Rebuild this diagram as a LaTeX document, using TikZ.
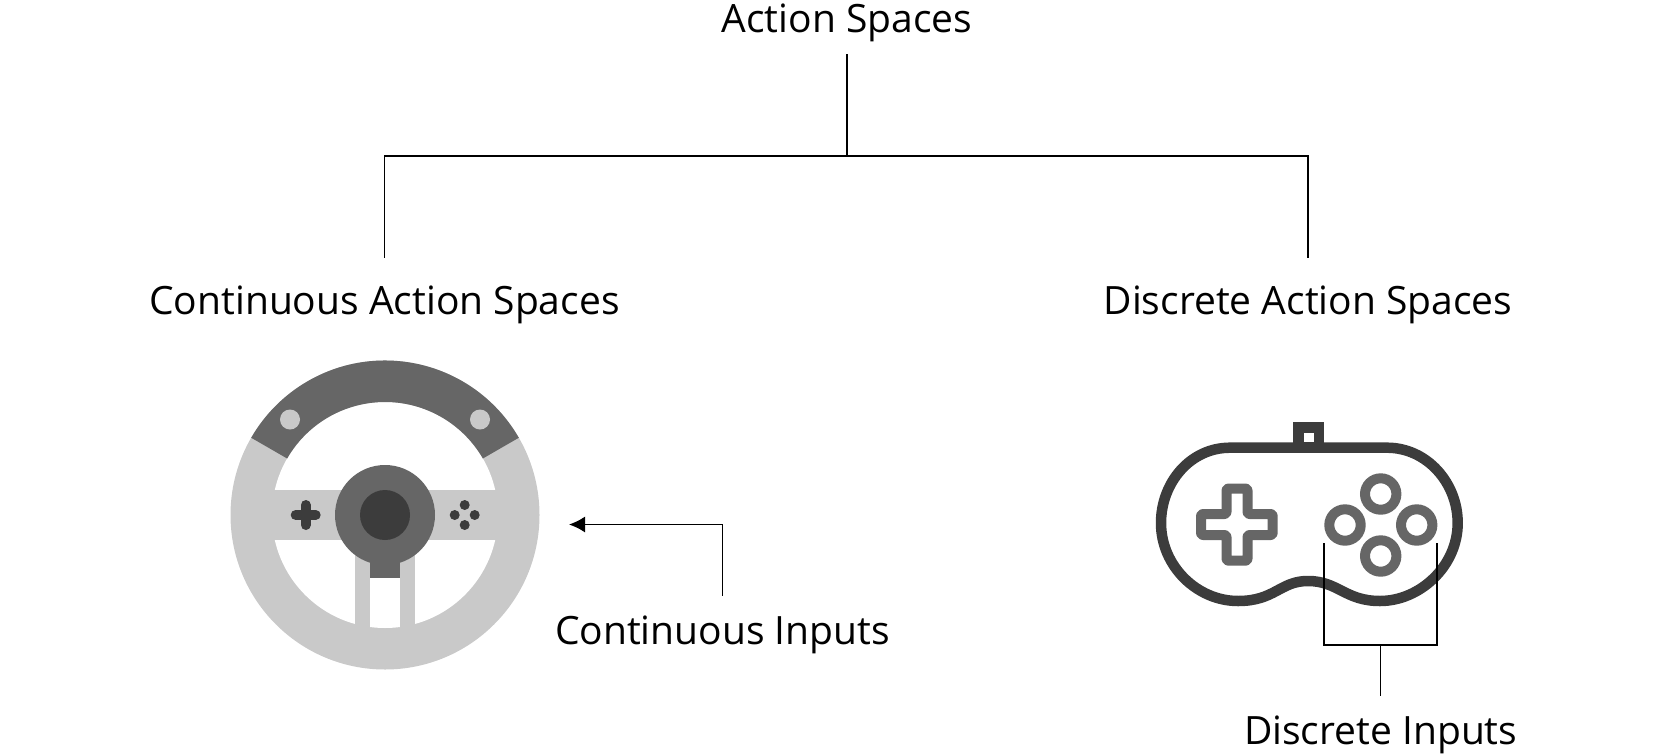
\documentclass[tikz,border=0pt]{standalone}
\usepackage{fontspec}
\setmainfont{Open Sans}
\usetikzlibrary{arrows.meta, positioning}
\definecolor{padlight}{HTML}{C9C9C9}
\definecolor{padmid}  {HTML}{666666}
\definecolor{paddark} {HTML}{3C3C3C}

\begin{document}
\begin{tikzpicture}[
    x=1pt, y=-1pt,
    lab/.style={font=\fontsize{39}{43}\selectfont, anchor=base, inner xsep=0pt,
                inner ysep=14pt, text height=42pt, text depth=8pt},
    inlab/.style={lab, text height=34pt},
    link/.style={line width=1.5pt, color=black},
    arr/.style={link, -{Latex[length=16pt, width=16pt]}},
    ringbtn/.style={draw=padmid, line width=10pt},
  ]
    \useasboundingbox (0,0) rectangle (1665,755);

    % Labels
    \node[lab] (root) at (847,32) {Action Spaces};
    \node[lab] (cont) at (384.5,314) {Continuous Action Spaces};
    \node[lab] (disc) at (1308,314) {Discrete Action Spaces};
    \node[inlab] (cinp) at (722.5,644) {Continuous Inputs};
    \node[inlab] (dinp) at (1380.7,744) {Discrete Inputs};

    % Tree
    \coordinate (fork) at (root.south |- 0,156);
    \draw[link] (root.south) -- (fork);
    \draw[link] (cont.north) |- (fork) -| (disc.north);

    % Wheel
    \coordinate (wheel) at (385,515);
    \fill[padlight] (wheel) circle[radius=154.5];
    \fill[white] (wheel) circle[radius=113];
    \fill[padlight] (255,490) rectangle (515,540);
    \fill[padlight] (355,515) rectangle (415,645);
    \begin{scope}
      \clip (wheel) circle[radius=113];
      \fill[white] (370,575) rectangle (400,640);
    \end{scope}
    \fill[padmid] (370,550) rectangle (400,578);
    \fill[padmid] (wheel) ++(-30:154.5) arc[start angle=-30, end angle=-150, radius=154.5]
      -- ++(30:41.5) arc[start angle=-150, end angle=-30, radius=113] -- cycle;
    \fill[padlight] (290,419.5) circle[radius=10];
    \fill[padlight] (480,419.5) circle[radius=10];
    \fill[padmid] (wheel) circle[radius=50];
    \fill[paddark] (wheel) circle[radius=25];
    \draw[paddark, line width=10pt, line cap=round] (295.7,515) -- (315.7,515);
    \draw[paddark, line width=10pt, line cap=round] (305.7,505) -- (305.7,525);
    \foreach \dx/\dy in {0/-10, 0/10, -10/0, 10/0}
      \fill[paddark] (464.7+\dx,515+\dy) circle[radius=5];

    % Arrow to the wheel
    \coordinate (wheeltip) at (569,524.5);
    \draw[arr] (cinp.north) |- (wheeltip);

    % Gamepad
    \draw[paddark, line width=10.5pt] (1298.7,447.7) rectangle (1319,427.5);
    \draw[paddark, line width=10.5pt] (1230,447.7) -- (1387,447.7)
      .. controls (1427,447.7) and (1457.7,483) .. (1457.7,523)
      .. controls (1457.7,566) and (1420,601) .. (1380,601)
      .. controls (1345,601) and (1338,581) .. (1308,581)
      .. controls (1280,581) and (1275,601) .. (1238,601)
      .. controls (1197,601) and (1161,566) .. (1161,523)
      .. controls (1161,483) and (1190,447.7) .. (1230,447.7) -- cycle;
    \draw[padmid, line width=10pt, rounded corners=2pt, line join=round]
      (1226.5,488.5) -- (1247.5,488.5) -- (1247.5,514) -- (1272.7,514) -- (1272.7,535)
      -- (1247.5,535) -- (1247.5,560.7) -- (1226.5,560.7) -- (1226.5,535) -- (1201,535)
      -- (1201,514) -- (1226.5,514) -- cycle;
    \foreach \bx/\by in {1380.7/494, 1345/525, 1416.7/525, 1380.7/556}
      \draw[ringbtn] (\bx,\by) circle[radius=15.7];

    % Bracket
    \coordinate (brl) at (1324,543.3);
    \coordinate (brr) at (1437,543.3);
    \coordinate (brm) at (dinp.north |- 0,645);
    \draw[link] (brl) |- (brm) -| (brr);
    \draw[link] (brm) -- (dinp.north);
  \end{tikzpicture}
\end{document}
